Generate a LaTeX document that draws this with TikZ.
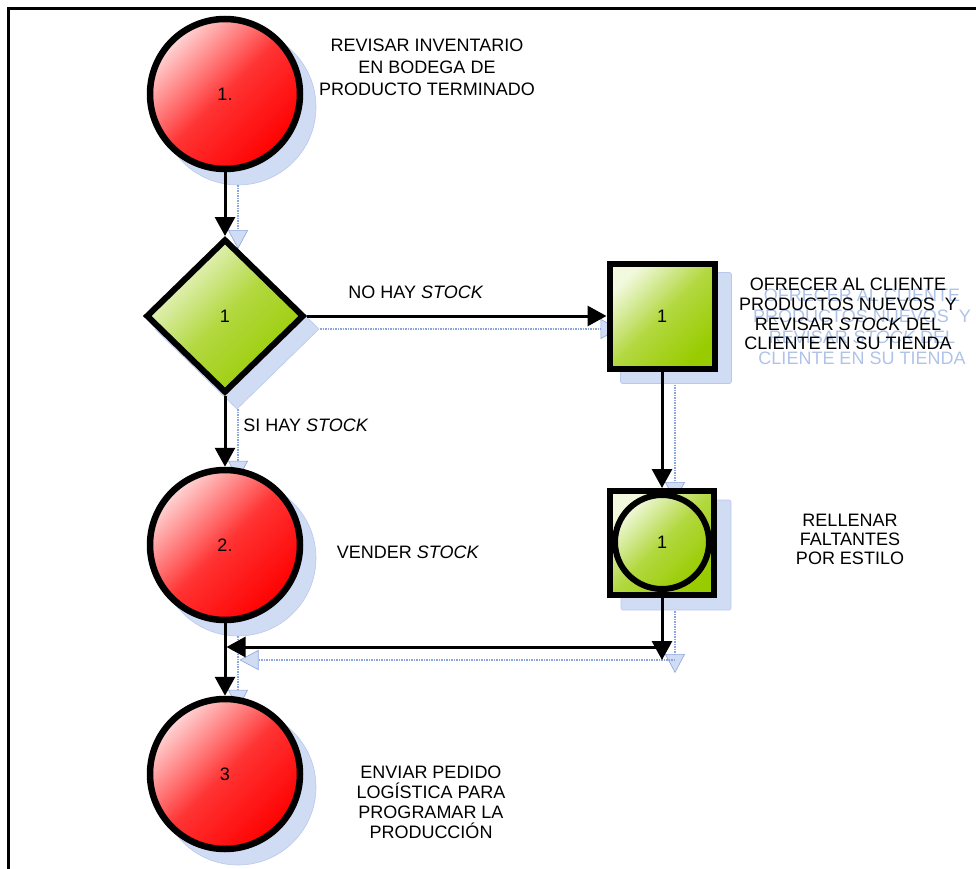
\documentclass[tikz,border=0pt]{standalone}
\usepackage{fontspec}
\setmainfont{Liberation Sans}
\usetikzlibrary{arrows.meta,shapes.geometric,calc,backgrounds}
\definecolor{shadowfill}{RGB}{208,220,243}
\definecolor{shadowline}{RGB}{140,165,222}
\definecolor{shadowtext}{RGB}{175,195,232}
\definecolor{redlight}{RGB}{255,215,215}
\definecolor{greenlight}{RGB}{242,249,222}
\definecolor{greenmid}{RGB}{178,216,64}
\definecolor{greendark}{RGB}{153,204,0}
\tikzset{
  x=1pt, y=-1pt,
  lbl/.style={font=\fontsize{18}{20}\selectfont, inner sep=0pt, align=center},
  redball/.style={circle, draw=black, line width=6.5pt, minimum size=150pt, inner sep=0pt,
    top color=redlight, bottom color=red, middle color=red!80!white, shading angle=45, lbl},
  greenball/.style={circle, draw=black, line width=6pt, minimum size=94pt, inner sep=0pt,
    top color=greenlight, bottom color=greendark, middle color=greenmid, shading angle=45, lbl},
  greendiamond/.style={diamond, draw=black, line width=6pt, minimum width=158pt, minimum height=154pt,
    inner sep=0pt, top color=greenlight, bottom color=greendark, middle color=greenmid, shading angle=45, lbl},
  greensquare/.style={rectangle, draw=black, line width=6pt, minimum size=105pt, inner sep=0pt,
    top color=greenlight, bottom color=greendark, middle color=greenmid, shading angle=45, lbl},
  conn/.style={draw=black, line width=3pt, -{Triangle[length=19pt,width=20pt]}},
  shconn/.style={draw=shadowline, line width=1.5pt, dash pattern=on 1.5pt off 1pt,
    -{Triangle[length=19pt,width=20pt,fill=shadowfill,line width=0.6pt]}},
  shfill/.style={fill=shadowfill, draw=shadowline!60, line width=0.6pt},
}
\begin{document}
\begin{tikzpicture}
\useasboundingbox (0,0) rectangle (976,869);
% frame
\draw[line width=3pt] (8,869) -- (8,9) -- (976,9);

% shapes
\node[redball] (c1) at (225,94) {1.};
\node[greendiamond] (d) at (225,316) {1};
\node[greensquare] (s1) at (662,316) {1};
\node[greensquare, minimum size=104pt] (s2) at (662,543) {};
\node[greenball] (g) at (662,542) {1};
\node[redball] (c2) at (225,545) {2.};
\node[redball] (c3) at (225,774) {3};

\coordinate (rdown) at (662,660);
\coordinate (rh) at (662,647);
\coordinate (lh) at (226.5,647);

% connectors
\draw[conn] (c1.south) -- (d.north);
\draw[conn] (d.east) -- (s1.west);
\draw[conn] (d.south) -- (c2.north);
\draw[conn] (s1.south) -- (s2.north);
\draw[conn] (s2.south) -- (rdown);
\draw[conn] (rh) -- (lh);
\draw[conn] (c2.south) -- (c3.north);

% labels
\node[lbl, font=\fontsize{18}{22}\selectfont] (t1) at (427,67) {REVISAR INVENTARIO\\EN BODEGA DE\\PRODUCTO TERMINADO};
\node[lbl] (t2) at (416,292) {NO HAY \textit{STOCK}};
\node[lbl] (t3) at (306,425) {SI HAY \textit{STOCK}};
\node[lbl, text=shadowtext, font=\fontsize{18}{21}\selectfont] (t4s) at (862,327) {OFRECER AL CLIENTE\\PRODUCTOS NUEVOS\ \ Y\\REVISAR \textit{STOCK} DEL\\CLIENTE EN SU TIENDA};
\node[lbl, font=\fontsize{18}{19.8}\selectfont] (t4) at (848,314) {OFRECER AL CLIENTE\\PRODUCTOS NUEVOS\ \ Y\\REVISAR \textit{STOCK} DEL\\CLIENTE EN SU TIENDA};
\node[lbl] (t5) at (408,552) {VENDER \textit{STOCK}};
\node[lbl, font=\fontsize{18}{19}\selectfont] (t6) at (850,539) {RELLENAR\\FALTANTES\\POR ESTILO};
\node[lbl] (t7) at (431,802) {ENVIAR PEDIDO\\LOGÍSTICA PARA\\PROGRAMAR LA\\PRODUCCIÓN};

% shadows
\begin{scope}[on background layer]
\path[shfill] ([shift={(13,13)}]c1.center) circle[radius=78pt];
\path[shfill] ([shift={(13,13)}]c2.center) circle[radius=78pt];
\path[shfill] ([shift={(13,13)}]c3.center) circle[radius=78pt];
\path[shfill] ([shift={(12,13)}]d.north) -- ([shift={(12,13)}]d.east) -- ([shift={(12,13)}]d.south) -- ([shift={(12,13)}]d.west) -- cycle;
\path[shfill, rounded corners=2pt] ([shift={(14,12)}]s1.north west) rectangle ([shift={(14,12)}]s1.south east);
\path[shfill, rounded corners=2pt] ([shift={(14,12)}]s2.north west) rectangle ([shift={(14,12)}]s2.south east);
\draw[shconn] ([shift={(13,13)}]c1.south) -- ([shift={(13,13)}]d.north);
\draw[shconn] ([shift={(13,13)}]d.east) -- ([shift={(13,13)}]s1.west);
\draw[shconn] ([shift={(13,13)}]d.south) -- ([shift={(13,13)}]c2.north);
\draw[shconn] ([shift={(13,13)}]s1.south) -- ([shift={(13,13)}]s2.north);
\draw[shconn] ([shift={(13,13)}]s2.south) -- ([shift={(13,13)}]rdown);
\draw[shconn] ([shift={(13,13)}]rh) -- ([shift={(13,13)}]lh);
\draw[shconn] ([shift={(13,13)}]c2.south) -- ([shift={(13,13)}]c3.north);
\end{scope}
\end{tikzpicture}
\end{document}
